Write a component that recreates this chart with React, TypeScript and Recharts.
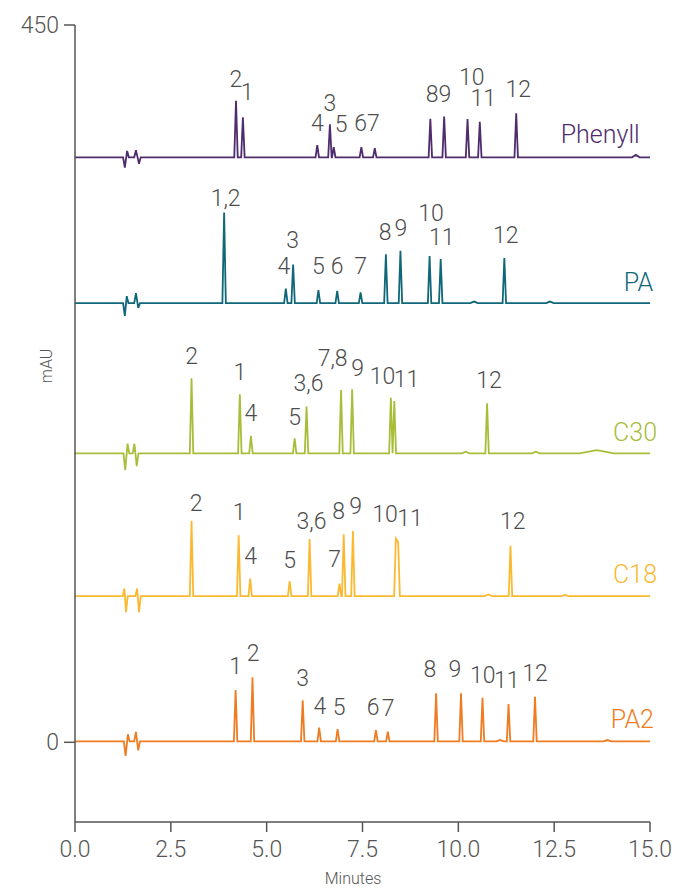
import { LineChart, Line, XAxis, YAxis, ReferenceDot } from "recharts";

// peak tables: [minutes, height above the trace baseline, optional half width]
const phenyllPeaks: [number, number, number?][] = [
  [1.3, -6.5], [1.36, 4], [1.59, 4.5], [1.67, -4],
  [4.2, 35.5], [4.38, 25.1], [6.32, 7.7], [6.65, 20.7], [6.75, 6.3],
  [7.47, 6.3], [7.82, 5.7], [9.27, 24.2], [9.63, 25.5], [10.24, 24],
  [10.56, 22.3], [11.51, 27.6], [14.63, 1.5, 0.1],
];
const paPeaks: [number, number, number?][] = [
  [1.3, -8], [1.35, 4.4], [1.59, 6.3], [1.65, -3],
  [3.89, 56.9], [5.5, 9.2], [5.69, 24.2], [6.35, 8.1], [6.84, 7.7],
  [7.45, 6.7], [8.11, 30.6], [8.49, 32.9], [9.25, 29.6], [9.54, 27.7],
  [10.41, 1, 0.1], [11.2, 28.3], [12.39, 1, 0.1],
];
const c30Peaks: [number, number, number?][] = [
  [1.31, -10.5], [1.37, 6], [1.55, 6], [1.61, -8],
  [3.04, 47.1], [4.3, 37], [4.59, 10.9], [5.73, 9.4], [6.04, 29.3],
  [6.94, 39.7], [7.23, 40.2], [8.24, 34.9], [8.33, 32.8], [10.19, 1, 0.1],
  [10.75, 31.4], [12.02, 1, 0.1], [13.61, 2, 0.45],
];
const c18Peaks: [number, number, number?][] = [
  [1.29, 4.8], [1.33, -10], [1.62, 4.8], [1.67, -10],
  [3.04, 47.3], [4.27, 38.2], [4.57, 11], [5.6, 9.5], [6.12, 35.9],
  [6.9, 7.9], [7.01, 38.8], [7.25, 40.9], [8.37, 36.1], [8.43, 34],
  [10.78, 1, 0.1], [11.36, 31.6], [12.78, 0.8, 0.1],
];
const pa2Peaks: [number, number, number?][] = [
  [1.32, -9.2], [1.38, 4.4], [1.59, 5.9], [1.65, -5.6],
  [4.19, 32.2], [4.63, 40.2], [5.94, 25.7], [6.37, 8.6], [6.85, 7.6],
  [7.85, 7.1], [8.16, 6], [9.42, 30.1], [10.07, 30.1], [10.63, 27.4],
  [11.09, 0.8, 0.1], [11.31, 23.4], [12.0, 28], [13.89, 0.8, 0.1],
];

// trace baselines (mAU)
const baselines = [367, 275.5, 181.3, 91.7, 0.6];
const names = ["Phenyll", "PA", "C30", "C18", "PA2"];
const colors = ["#4e2c6e", "#10677a", "#a9bd3b", "#fbb932", "#ef7b23"];

// peak labels: [text, minutes, mAU]
const phenyllLabels: [string, number, number][] = [
  ["2", 4.2, 416.1], ["1", 4.49, 407.9], ["3", 6.65, 400.9], ["4", 6.32, 388.3],
  ["5", 6.94, 387.3], ["67", 7.62, 387.9], ["89", 9.48, 406.5], ["10", 10.35, 417],
  ["11", 10.65, 403.8], ["12", 11.56, 409.7],
];
const paLabels: [string, number, number][] = [
  ["1,2", 3.93, 341.3], ["3", 5.68, 314.5], ["4", 5.45, 298.4], ["5", 6.35, 298.4],
  ["6", 6.84, 298.4], ["7", 7.45, 298.4], ["8", 8.09, 319.7], ["9", 8.5, 322.5],
  ["10", 9.29, 331.8], ["11", 9.57, 316.8], ["12", 11.24, 317.8],
];
const c30Labels: [string, number, number][] = [
  ["2", 3.04, 242.3], ["1", 4.3, 231.9], ["4", 4.59, 206], ["5", 5.73, 203.9],
  ["3,6", 6.09, 225.2], ["7,8", 6.72, 240.9], ["9", 7.37, 234.6], ["10", 8.02, 229.4],
  ["11", 8.65, 227.3], ["12", 10.8, 226.9],
];
const c18Labels: [string, number, number][] = [
  ["2", 3.16, 149.9], ["1", 4.28, 144], ["4", 4.58, 116.4], ["5", 5.6, 113.9],
  ["3,6", 6.17, 138.4], ["7", 6.77, 114.4], ["8", 6.88, 144.7], ["9", 7.32, 147.8],
  ["10", 8.09, 142.6], ["11", 8.74, 140.5], ["12", 11.42, 138.4],
];
const pa2Labels: [string, number, number][] = [
  ["1", 4.19, 47.4], ["2", 4.65, 55.4], ["3", 5.94, 40.2], ["4", 6.39, 22.3],
  ["5", 6.89, 22], ["6", 7.78, 22.1], ["7", 8.17, 21.3], ["8", 9.26, 45.4],
  ["9", 9.91, 45.4], ["10", 10.64, 42.2], ["11", 11.26, 38.6], ["12", 12.0, 43.3],
];
// series name labels: [minutes, mAU]
const namePositions: [number, number][] = [
  [13.7, 381], [14.7, 288.6], [14.61, 194.5], [14.61, 105], [14.54, 14],
];

const xTicks = [0, 2.5, 5, 7.5, 10, 12.5, 15];
const yTicks = [0, 450];

const HALF = 0.045;
const FONT = "Roboto, 'Liberation Sans', sans-serif";
const AXIS = "#555";

function buildTrace(peaks: [number, number, number?][], base: number) {
  const sorted = [...peaks].sort((a, b) => a[0] - b[0]);
  const out = [{ t: 0, v: base }];
  sorted.forEach(([t, h, w = HALF], i) => {
    const prev = sorted[i - 1];
    const next = sorted[i + 1];
    const prevRight = prev ? prev[0] + (prev[2] ?? HALF) : -Infinity;
    const nextLeft = next ? next[0] - (next[2] ?? HALF) : Infinity;
    if (t - w >= prevRight) out.push({ t: t - w, v: base });
    out.push({ t, v: base + h });
    if (t + w <= nextLeft) out.push({ t: t + w, v: base });
  });
  out.push({ t: 15, v: base });
  return out;
}

const allPeaks = [phenyllPeaks, paPeaks, c30Peaks, c18Peaks, pa2Peaks];
const allLabels = [phenyllLabels, paLabels, c30Labels, c18Labels, pa2Labels];

const series = names.map((name, i) => ({
  name,
  color: colors[i],
  data: buildTrace(allPeaks[i], baselines[i]),
  labels: allLabels[i],
  namePos: namePositions[i],
}));

const textShape = (text: string, fill: string, size: number) => (p: any) => (
  <text
    x={p.cx}
    y={p.cy}
    textAnchor="middle"
    dominantBaseline="central"
    fill={fill}
    fontSize={size}
    fontFamily={FONT}
    fontWeight={300}
  >
    {text}
  </text>
);

export default function App() {
  return (
    <div style={{ position: "absolute", left: 0, top: 0 }}>
      <LineChart
        width={698}
        height={888}
        margin={{ top: 25, right: 48, left: 0, bottom: 0 }}
      >
        <XAxis
          type="number"
          dataKey="t"
          domain={[0, 15]}
          ticks={xTicks}
          tickFormatter={(v: number) => v.toFixed(1)}
          allowDataOverflow
          height={66}
          tickSize={10}
          tickMargin={9}
          stroke={AXIS}
          strokeWidth={1.5}
          tick={{ fill: AXIS, fontSize: 23, fontFamily: FONT, fontWeight: 300 }}
          label={{
            content: () => (
              <text
                x={353}
                y={884}
                textAnchor="middle"
                fill={AXIS}
                fontSize={16}
                fontFamily={FONT}
                fontWeight={300}
              >
                Minutes
              </text>
            ),
          }}
        />
        <YAxis
          type="number"
          domain={[-50, 450]}
          ticks={yTicks}
          allowDataOverflow
          width={75}
          tickSize={11}
          tickMargin={5}
          stroke={AXIS}
          strokeWidth={1.5}
          tick={{ fill: AXIS, fontSize: 23, fontFamily: FONT, fontWeight: 300 }}
          label={{
            content: () => (
              <text
                x={46}
                y={366}
                transform="rotate(-90 46 366)"
                textAnchor="middle"
                dominantBaseline="central"
                fill={AXIS}
                fontSize={16}
                fontFamily={FONT}
                fontWeight={300}
              >
                mAU
              </text>
            ),
          }}
        />
        {series.map((s) => (
          <Line
            key={s.name}
            data={s.data}
            dataKey="v"
            type="linear"
            stroke={s.color}
            strokeWidth={1.8}
            dot={false}
            isAnimationActive={false}
          />
        ))}
        {series.flatMap((s) =>
          s.labels.map(([txt, t, v], j) => (
            <ReferenceDot
              key={`${s.name}-${j}`}
              x={t}
              y={v}
              r={0}
              shape={textShape(txt, "#4d4d4d", 23)}
            />
          ))
        )}
        {series.map((s) => (
          <ReferenceDot
            key={`${s.name}-name`}
            x={s.namePos[0]}
            y={s.namePos[1]}
            r={0}
            shape={textShape(s.name, s.color, 25)}
          />
        ))}
      </LineChart>
    </div>
  );
}
